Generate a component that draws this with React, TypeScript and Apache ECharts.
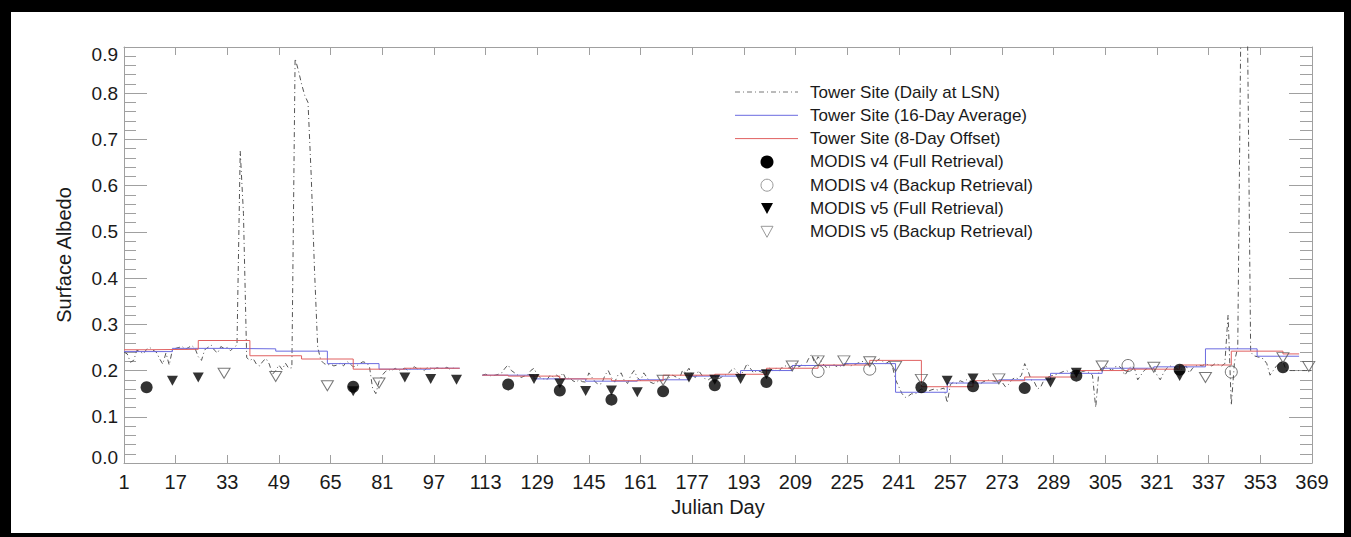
import React, { useEffect, useRef } from "react";
import * as echarts from "echarts";

// ---------- DATA ----------
const xTickLabels = ["1","17","33","49","65","81","97","113","129","145","161","177","193","209","225","241","257","273","289","305","321","337","353","369"];
const yTickLabels = ["0.0","0.1","0.2","0.3","0.4","0.5","0.6","0.7","0.8","0.9"];

// Tower site daily albedo at local solar noon, days 1..369 (null = missing)
const dailyFirstDay = 1;
const dailyAlbedo: (number | null)[] = [
  0.240, 0.236, 0.218, 0.222, 0.244, 0.241, 0.236, 0.246, 0.250, 0.244, // 1-10
  0.240, 0.226, 0.214, 0.238, 0.212, 0.245, 0.248, 0.250, 0.252, 0.246, // 11-20
  0.250, 0.254, 0.248, 0.230, 0.222, 0.245, 0.250, 0.255, 0.244, 0.238, // 21-30
  0.252, 0.248, 0.250, 0.243, 0.250, 0.255, 0.675, 0.540, 0.228, 0.222, // 31-40
  0.226, 0.214, 0.210, 0.220, 0.226, 0.214, 0.192, 0.200, 0.212, 0.202, // 41-50
  0.216, 0.205, 0.206, 0.875, 0.850, 0.820, 0.795, 0.780, 0.620, 0.420, // 51-60
  0.250, 0.222, 0.215, 0.212, 0.214, 0.210, 0.212, 0.216, 0.210, 0.220, // 61-70
  0.215, 0.208, 0.210, 0.215, 0.219, 0.217, 0.210, 0.162, 0.150, 0.176, // 71-80
  0.190, 0.198, 0.202, 0.200, 0.205, 0.200, 0.203, 0.205, 0.200, 0.205, // 81-90
  0.208, 0.203, 0.205, 0.200, 0.207, 0.205, 0.203, 0.206, 0.204, 0.205, // 91-100
  0.207, 0.203, 0.205, 0.206, null, null, null, null, null, null,       // 101-110
  null, 0.190, 0.192, 0.190, 0.188, 0.190, 0.192, 0.195, 0.205, 0.212,  // 111-120
  0.200, 0.195, 0.190, 0.185, 0.188, 0.190, 0.200, 0.205, 0.190, 0.185, // 121-130
  0.182, 0.180, 0.190, 0.186, 0.190, 0.185, 0.195, 0.180, 0.185, 0.178, // 131-140
  0.175, 0.180, 0.176, 0.175, 0.195, 0.185, 0.175, 0.170, 0.172, 0.190, // 141-150
  0.200, 0.185, 0.175, 0.190, 0.195, 0.178, 0.172, 0.190, 0.200, 0.185, // 151-160
  0.178, 0.195, 0.185, 0.175, 0.172, 0.175, 0.178, 0.180, 0.182, 0.185, // 161-170
  0.190, 0.186, 0.182, 0.200, 0.195, 0.205, 0.190, 0.185, 0.200, 0.190, // 171-180
  0.182, 0.180, 0.185, 0.188, 0.182, 0.185, 0.190, 0.192, 0.200, 0.205, // 181-190
  0.195, 0.190, 0.200, 0.215, 0.205, 0.195, 0.200, 0.198, 0.195, 0.200, // 191-200
  0.205, 0.200, 0.205, 0.200, 0.208, 0.210, 0.205, 0.210, 0.215, 0.208, // 201-210
  0.212, 0.210, 0.225, 0.235, 0.215, 0.230, 0.220, 0.210, 0.205, 0.210, // 211-220
  0.212, 0.208, 0.210, 0.212, 0.215, 0.210, 0.212, 0.215, 0.218, 0.220, // 221-230
  0.215, 0.212, 0.218, 0.220, 0.225, 0.220, 0.215, 0.220, 0.210, 0.180, // 231-240
  0.165, 0.150, 0.142, 0.145, 0.150, 0.148, 0.155, 0.160, 0.158, 0.155, // 241-250
  0.158, 0.160, 0.158, 0.160, 0.162, 0.130, 0.170, 0.175, 0.172, 0.178, // 251-260
  0.175, 0.180, 0.178, 0.175, 0.172, 0.170, 0.175, 0.178, 0.180, 0.178, // 261-270
  0.176, 0.178, 0.175, 0.165, 0.170, 0.180, 0.185, 0.182, 0.190, 0.215, // 271-280
  0.200, 0.180, 0.175, 0.160, 0.165, 0.180, 0.185, 0.188, 0.190, 0.192, // 281-290
  0.195, 0.198, 0.200, 0.195, 0.198, 0.200, 0.195, 0.198, 0.200, 0.195, // 291-300
  0.190, 0.120, 0.200, 0.205, 0.210, 0.205, 0.200, 0.208, 0.210, 0.205, // 301-310
  0.190, 0.200, 0.210, 0.205, 0.180, 0.190, 0.200, 0.205, 0.210, 0.205, // 311-320
  0.190, 0.180, 0.195, 0.205, 0.210, 0.208, 0.205, 0.200, 0.205, 0.210, // 321-330
  0.195, 0.205, 0.210, 0.212, 0.210, 0.215, 0.212, 0.210, 0.215, 0.213, // 331-340
  0.210, 0.215, 0.320, 0.125, 0.220, 0.250, 0.980, 0.970, 0.950, 0.240, // 341-350
  0.232, 0.230, 0.228, 0.225, 0.215, 0.190, 0.200, 0.210, 0.215, 0.220, // 351-360
  0.200, 0.200, 0.200, 0.200, 0.200, 0.200, 0.200, 0.200, 0.200,        // 361-369
];

// Tower site 16-day average (step segments)
const avg16Start = [1, 16, 32, 48, 64, 80, 96, 112, 128, 144, 160, 176, 192, 208, 224, 240, 256, 272, 288, 304, 320, 336, 352];
const avg16End   = [16, 32, 48, 64, 80, 96, 105, 128, 144, 160, 176, 192, 208, 224, 240, 256, 272, 288, 304, 320, 336, 352, 365];
const avg16Value = [0.241, 0.248, 0.247, 0.242, 0.215, 0.203, 0.205, 0.190, 0.182, 0.177, 0.180, 0.188, 0.200, 0.211, 0.215, 0.153, 0.173, 0.180, 0.194, 0.205, 0.208, 0.247, 0.231];

// Tower site 8-day offset (step segments)
const off8Start = [1, 8, 24, 40, 56, 72, 88, 112, 120, 136, 152, 168, 184, 200, 216, 232, 248, 264, 280, 296, 312, 328, 344, 360];
const off8End   = [8, 24, 40, 56, 72, 88, 105, 120, 136, 152, 168, 184, 200, 216, 232, 248, 264, 280, 296, 312, 328, 344, 360, 365];
const off8Value = [0.245, 0.246, 0.265, 0.232, 0.225, 0.203, 0.205, 0.190, 0.188, 0.182, 0.178, 0.190, 0.192, 0.205, 0.212, 0.222, 0.165, 0.178, 0.186, 0.200, 0.203, 0.212, 0.242, 0.236];

// MODIS retrievals
const v4FullDays = [8, 72, 120, 136, 152, 168, 184, 200, 248, 264, 280, 296, 328, 360];
const v4FullAlbedo = [0.164, 0.165, 0.170, 0.157, 0.137, 0.155, 0.168, 0.175, 0.164, 0.166, 0.162, 0.189, 0.202, 0.207];

const v4BackupDays = [216, 232, 312, 344];
const v4BackupAlbedo = [0.198, 0.203, 0.211, 0.197];

const v5FullDays = [16, 24, 72, 88, 96, 104, 128, 136, 144, 152, 160, 176, 184, 192, 200, 256, 264, 288, 296, 328];
const v5FullAlbedo = [0.178, 0.185, 0.155, 0.185, 0.182, 0.180, 0.182, 0.172, 0.156, 0.157, 0.153, 0.185, 0.180, 0.182, 0.192, 0.178, 0.183, 0.174, 0.195, 0.188];

const v5BackupDays = [32, 48, 64, 80, 168, 208, 216, 224, 232, 240, 248, 272, 304, 320, 336, 360, 368];
const v5BackupAlbedo = [0.194, 0.187, 0.167, 0.173, 0.179, 0.210, 0.221, 0.221, 0.219, 0.209, 0.181, 0.182, 0.210, 0.207, 0.185, 0.228, 0.209];

const legendLabels = [
  "Tower Site (Daily at LSN)",
  "Tower Site (16-Day Average)",
  "Tower Site (8-Day Offset)",
  "MODIS v4 (Full Retrieval)",
  "MODIS v4 (Backup Retrieval)",
  "MODIS v5 (Full Retrieval)",
  "MODIS v5 (Backup Retrieval)",
];

// ---------- HELPERS ----------
const toX = (day: number) => day - 1; // axis counts from day 1
const FONT = "Liberation Sans, Arial, Helvetica, sans-serif";
const DAILY_COLOR = "#555555";
const BLUE = "#6b6be0";
const RED = "#e06060";
const OPEN_COLOR = "#555555";

function stepData(starts: number[], ends: number[], values: number[]) {
  const out: any[] = [];
  for (let i = 0; i < starts.length; i++) {
    if (i > 0 && starts[i] !== ends[i - 1]) {
      out.push([toX((starts[i] + ends[i - 1]) / 2), "-"]);
    }
    out.push([toX(starts[i]), values[i]]);
    out.push([toX(ends[i]), values[i]]);
  }
  return out;
}

function pts(days: number[], vals: number[]) {
  return days.map((d, i) => [toX(d), vals[i]]);
}

export default function App() {
  const ref = useRef<HTMLDivElement>(null);

  useEffect(() => {
    if (!ref.current) return;
    const chart = echarts.init(ref.current, undefined, { renderer: "svg" });

    const dailyData = dailyAlbedo.map((v, i) => [toX(dailyFirstDay + i), v == null ? "-" : v]);

    const axisLineStyle = { color: "#a0a0a0", width: 1 };

    // legend (drawn with graphic)
    const lx0 = 735, lx1 = 798, mx = 767, tx = 810, ly0 = 92, lstep = 23.3;
    const legendGraphics: any[] = [];
    legendLabels.forEach((t, i) => {
      const y = ly0 + i * lstep;
      legendGraphics.push({
        type: "text", x: tx, y, silent: true,
        style: { text: t, fontSize: 17, fontFamily: FONT, fill: "#1a1a1a", verticalAlign: "middle", align: "left" },
      });
    });
    const ly = (i: number) => ly0 + i * lstep;
    legendGraphics.push(
      { type: "line", silent: true, shape: { x1: lx0, y1: ly(0), x2: lx1, y2: ly(0) }, style: { stroke: "#777", lineWidth: 1, lineDash: [5, 3, 1, 3] } },
      { type: "line", silent: true, shape: { x1: lx0, y1: ly(1), x2: lx1, y2: ly(1) }, style: { stroke: BLUE, lineWidth: 1 } },
      { type: "line", silent: true, shape: { x1: lx0, y1: ly(2), x2: lx1, y2: ly(2) }, style: { stroke: RED, lineWidth: 1 } },
      { type: "circle", silent: true, shape: { cx: mx, cy: ly(3), r: 6.5 }, style: { fill: "#000" } },
      { type: "circle", silent: true, shape: { cx: mx, cy: ly(4), r: 6 }, style: { fill: "none", stroke: "#999", lineWidth: 1 } },
      { type: "polygon", silent: true, shape: { points: [[mx - 6, ly(5) - 5.5], [mx + 6, ly(5) - 5.5], [mx, ly(5) + 5.5]] }, style: { fill: "#000" } },
      { type: "polygon", silent: true, shape: { points: [[mx - 6, ly(6) - 5.5], [mx + 6, ly(6) - 5.5], [mx, ly(6) + 5.5]] }, style: { fill: "none", stroke: "#999", lineWidth: 1 } },
    );

    // black picture frame
    const frame = [
      { type: "rect", silent: true, z: 100, shape: { x: 0, y: 0, width: 1351, height: 12 }, style: { fill: "#000" } },
      { type: "rect", silent: true, z: 100, shape: { x: 0, y: 0, width: 11, height: 537 }, style: { fill: "#000" } },
      { type: "rect", silent: true, z: 100, shape: { x: 1344, y: 0, width: 7, height: 537 }, style: { fill: "#000" } },
      { type: "rect", silent: true, z: 100, shape: { x: 0, y: 533, width: 1351, height: 4 }, style: { fill: "#000" } },
    ];

    const xCommon = {
      type: "value" as const,
      min: 0,
      max: 368,
      interval: 16,
      axisLine: { show: true, onZero: false, lineStyle: axisLineStyle },
      axisTick: { show: true, inside: true, length: 8, lineStyle: axisLineStyle },
      splitLine: { show: false },
    };
    const yCommon = {
      type: "value" as const,
      min: 0,
      max: 0.9,
      interval: 0.1,
      axisLine: { show: true, onZero: false, lineStyle: axisLineStyle },
      axisTick: { show: true, inside: true, length: 23, lineStyle: axisLineStyle },
      minorTick: { show: true, splitNumber: 5, length: 12, lineStyle: axisLineStyle },
      splitLine: { show: false },
      minorSplitLine: { show: false },
    };

    chart.setOption({
      animation: false,
      backgroundColor: "#ffffff",
      grid: { left: 124, right: 39, top: 47, bottom: 74, containLabel: false },
      xAxis: [
        {
          ...xCommon,
          position: "bottom",
          name: "Julian Day",
          nameLocation: "middle",
          nameGap: 33,
          nameTextStyle: { fontSize: 20, fontFamily: FONT, color: "#1a1a1a" },
          axisLabel: {
            show: true, margin: 9, fontSize: 20, fontFamily: FONT, color: "#1a1a1a",
            formatter: (v: number) => xTickLabels[Math.round(v / 16)] ?? "",
          },
        },
        { ...xCommon, position: "top", axisLabel: { show: false } },
      ],
      yAxis: [
        {
          ...yCommon,
          position: "left",
          name: "Surface Albedo",
          nameLocation: "middle",
          nameGap: 50,
          nameRotate: 90,
          nameTextStyle: { fontSize: 20, fontFamily: FONT, color: "#1a1a1a" },
          axisLabel: {
            show: true, margin: 6, fontSize: 19, fontFamily: FONT, color: "#1a1a1a",
            formatter: (v: number) => {
              const i = Math.round(v * 10);
              const t = yTickLabels[i] ?? "";
              if (i === yTickLabels.length - 1) return "{top|" + t + "}";
              if (i === 0) return "{bot|" + t + "}";
              return t;
            },
            rich: {
              top: { fontSize: 19, fontFamily: FONT, color: "#1a1a1a", padding: [14, 0, 0, 0] },
              bot: { fontSize: 19, fontFamily: FONT, color: "#1a1a1a", padding: [0, 0, 12, 0] },
            },
          },
        },
        { ...yCommon, position: "right", axisLabel: { show: false } },
      ],
      graphic: [...frame, ...legendGraphics],
      series: [
        {
          name: legendLabels[0], type: "line", data: dailyData, showSymbol: false, connectNulls: false,
          lineStyle: { color: DAILY_COLOR, width: 1, type: [5, 3, 1, 3] }, z: 1, silent: true,
        },
        {
          name: legendLabels[1], type: "line", data: stepData(avg16Start, avg16End, avg16Value), showSymbol: false,
          connectNulls: false, lineStyle: { color: BLUE, width: 1 }, z: 2, silent: true,
        },
        {
          name: legendLabels[2], type: "line", data: stepData(off8Start, off8End, off8Value), showSymbol: false,
          connectNulls: false, lineStyle: { color: RED, width: 1 }, z: 2, silent: true,
        },
        {
          name: legendLabels[3], type: "scatter", data: pts(v4FullDays, v4FullAlbedo), symbol: "circle", symbolSize: 12,
          itemStyle: { color: "#000" }, z: 5,
        },
        {
          name: legendLabels[4], type: "scatter", data: pts(v4BackupDays, v4BackupAlbedo), symbol: "circle", symbolSize: 12,
          itemStyle: { color: "rgba(0,0,0,0)", borderColor: OPEN_COLOR, borderWidth: 1 }, z: 5,
        },
        {
          name: legendLabels[5], type: "scatter", data: pts(v5FullDays, v5FullAlbedo), symbol: "triangle", symbolRotate: 180,
          symbolSize: [11, 10], itemStyle: { color: "#000" }, z: 5,
        },
        {
          name: legendLabels[6], type: "scatter", data: pts(v5BackupDays, v5BackupAlbedo), symbol: "triangle", symbolRotate: 180,
          symbolSize: [12, 10], itemStyle: { color: "rgba(0,0,0,0)", borderColor: OPEN_COLOR, borderWidth: 1 }, z: 5,
        },
      ],
    });

    return () => chart.dispose();
  }, []);

  return (
    <div
      ref={ref}
      style={{ position: "absolute", left: 0, top: 0, width: 1351, height: 537, background: "#fff" }}
    />
  );
}
